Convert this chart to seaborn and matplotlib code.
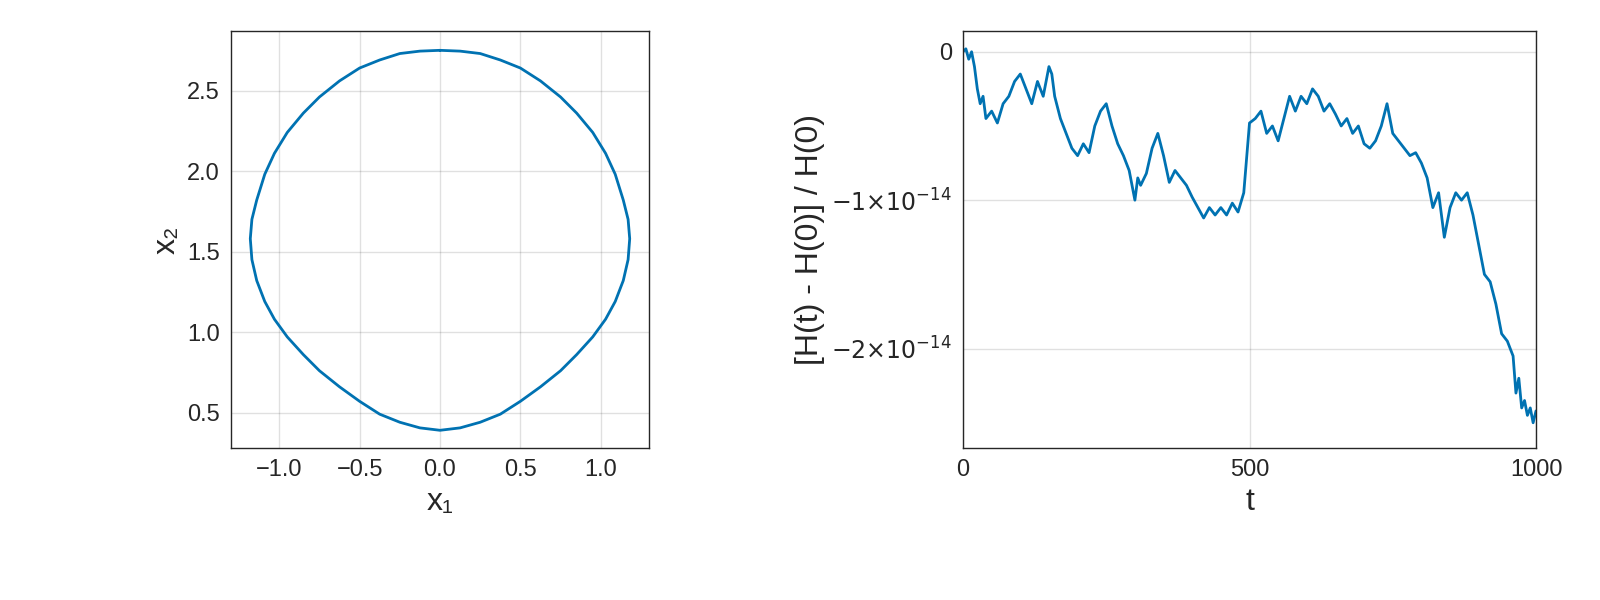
import matplotlib
matplotlib.use("Agg")
import matplotlib.pyplot as plt
import seaborn as sns
import pandas as pd

# closed orbit, right half (top to bottom); left half is its mirror
half_x = [0.0, 0.125, 0.25, 0.375, 0.5, 0.625, 0.75, 0.85, 0.95, 1.03, 1.09, 1.14, 1.17, 1.18,
          1.17, 1.14, 1.09, 1.03, 0.95, 0.85, 0.75, 0.625, 0.5, 0.375, 0.25, 0.125, 0.0]
half_y = [2.75, 2.745, 2.73, 2.69, 2.64, 2.56, 2.46, 2.36, 2.24, 2.11, 1.98, 1.82, 1.70, 1.58,
          1.45, 1.32, 1.19, 1.08, 0.97, 0.86, 0.76, 0.66, 0.57, 0.49, 0.44, 0.405, 0.39]
orbit_x = half_x + [-v for v in half_x[::-1]]
orbit_y = half_y + half_y[::-1]

# relative energy error, units of 1e-14
t = [0, 5, 10, 15, 20, 25, 30, 35, 40, 50, 60, 70, 80, 90, 100, 110, 120, 130, 140, 150, 155, 160, 170, 180,
     190, 200, 210, 220, 230, 240, 250, 260, 270, 280, 290, 300, 305, 310, 320, 330, 340, 350, 360, 370,
     380, 390, 400, 410, 420, 430, 440, 450, 460, 470, 480, 490, 500, 510, 520, 530, 540, 550, 560, 570,
     580, 590, 600, 610, 620, 630, 640, 650, 660, 670, 680, 690, 700, 710, 720, 730, 740, 750, 760, 770,
     780, 790, 800, 810, 820, 830, 840, 850, 860, 870, 880, 890, 900, 910, 920, 930, 940, 950, 960, 965,
     970, 975, 980, 985, 990, 995, 1000]
dh = [0.0, 0.02, -0.05, 0.0, -0.1, -0.25, -0.35, -0.3, -0.45, -0.4, -0.48, -0.35, -0.3, -0.2, -0.15, -0.25,
      -0.35, -0.2, -0.3, -0.1, -0.15, -0.3, -0.45, -0.55, -0.65, -0.7, -0.62, -0.68, -0.5, -0.4, -0.35, -0.5,
      -0.62, -0.7, -0.8, -1.0, -0.85, -0.9, -0.82, -0.65, -0.55, -0.7, -0.88, -0.8, -0.85, -0.9, -0.98, -1.05,
      -1.12, -1.05, -1.1, -1.05, -1.1, -1.02, -1.08, -0.95, -0.48, -0.45, -0.4, -0.55, -0.5, -0.6, -0.45, -0.3,
      -0.4, -0.3, -0.35, -0.25, -0.3, -0.4, -0.35, -0.42, -0.5, -0.45, -0.55, -0.5, -0.62, -0.65, -0.6, -0.5,
      -0.35, -0.55, -0.6, -0.65, -0.7, -0.68, -0.75, -0.85, -1.05, -0.95, -1.25, -1.05, -0.95, -1.0, -0.95,
      -1.1, -1.3, -1.5, -1.55, -1.7, -1.9, -1.95, -2.05, -2.3, -2.2, -2.4, -2.35, -2.45, -2.4, -2.5, -2.42]

blue = "#0072B2"
sns.set_style("ticks")
plt.rcParams["font.family"] = ["Liberation Sans", "DejaVu Sans"]
plt.rcParams["font.size"] = 17

fig = plt.figure(figsize=(16, 6), dpi=100)
ax1 = fig.add_axes([231 / 1600, 1 - 448 / 600, 418 / 1600, 417 / 600])
ax2 = fig.add_axes([963 / 1600, 1 - 448 / 600, 573 / 1600, 417 / 600])

sns.lineplot(data=pd.DataFrame({"x": orbit_x, "y": orbit_y}), x="x", y="y", sort=False,
             estimator=None, color=blue, lw=2, ax=ax1)
ax1.set_xlim(-1.3, 1.3)
ax1.set_ylim(0.28, 2.87)
ax1.set_xticks([-1.0, -0.5, 0.0, 0.5, 1.0])
ax1.set_xticklabels(["\u22121.0", "\u22120.5", "0.0", "0.5", "1.0"])
ax1.set_yticks([0.5, 1.0, 1.5, 2.0, 2.5])
ax1.set_xlabel("x\u2081", fontsize=23)
ax1.set_ylabel("x\u2082", fontsize=23)

sns.lineplot(data=pd.DataFrame({"t": t, "dh": [v * 1e-14 for v in dh]}), x="t", y="dh",
             estimator=None, color=blue, lw=2, ax=ax2)
ax2.set_xlim(0, 1000)
ax2.set_ylim(-2.67e-14, 0.14e-14)
ax2.set_xticks([0, 500, 1000])
ax2.set_yticks([0, -1e-14, -2e-14])
ax2.set_yticklabels(["0", r"$-1{\times}10^{-14}$", r"$-2{\times}10^{-14}$"])
ax2.set_xlabel("t", fontsize=23)
ax2.set_ylabel("[H(t) - H(0)] / H(0)", fontsize=23)

for ax in (ax1, ax2):
    ax.grid(True, color="#000000", alpha=0.12, lw=1)
    ax.tick_params(labelsize=17, length=0, pad=8)
    for s in ax.spines.values():
        s.set_linewidth(1)

fig.savefig("out.png", dpi=100)
